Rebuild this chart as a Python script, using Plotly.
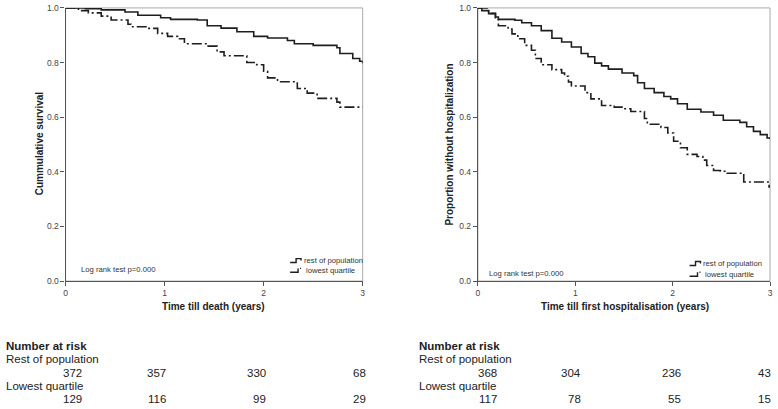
import plotly.graph_objects as go

# ---------------- data ----------------
death_rest_t = [0, 0.2, 0.36, 0.6, 0.73, 0.96, 1.06, 1.33, 1.43, 1.57, 1.73, 1.9, 2.04, 2.24, 2.31, 2.5, 2.74, 2.77, 2.9, 2.97, 3.0]
death_rest_s = [1.0, 0.997, 0.993, 0.985, 0.973, 0.964, 0.958, 0.956, 0.935, 0.926, 0.913, 0.896, 0.89, 0.881, 0.869, 0.863, 0.854, 0.833, 0.815, 0.805, 0.797]

death_low_t = [0, 0.13, 0.23, 0.36, 0.46, 0.63, 0.66, 0.83, 0.93, 1.03, 1.13, 1.2, 1.43, 1.53, 1.6, 1.83, 1.93, 2.0, 2.04, 2.14, 2.34, 2.44, 2.54, 2.74, 2.77, 3.0]
death_low_s = [1.0, 0.99, 0.982, 0.97, 0.956, 0.94, 0.931, 0.925, 0.907, 0.896, 0.887, 0.869, 0.86, 0.839, 0.825, 0.8, 0.792, 0.768, 0.744, 0.73, 0.705, 0.688, 0.669, 0.655, 0.637, 0.637]

hosp_rest_t = [0, 0.04, 0.11, 0.18, 0.21, 0.38, 0.45, 0.55, 0.65, 0.76, 0.86, 0.96, 1.06, 1.13, 1.2, 1.27, 1.34, 1.48, 1.6, 1.64, 1.71, 1.81, 1.91, 1.98, 2.05, 2.15, 2.29, 2.42, 2.52, 2.69, 2.76, 2.83, 2.9, 2.97, 3.0]
hosp_rest_s = [1.0, 0.99, 0.979, 0.967, 0.958, 0.955, 0.946, 0.935, 0.917, 0.889, 0.875, 0.857, 0.833, 0.821, 0.798, 0.788, 0.776, 0.762, 0.752, 0.726, 0.705, 0.69, 0.676, 0.667, 0.649, 0.629, 0.619, 0.607, 0.589, 0.581, 0.565, 0.548, 0.536, 0.524, 0.52]

hosp_low_t = [0, 0.11, 0.18, 0.21, 0.31, 0.35, 0.41, 0.48, 0.55, 0.59, 0.65, 0.76, 0.86, 0.89, 0.93, 0.96, 1.1, 1.16, 1.27, 1.4, 1.5, 1.57, 1.71, 1.74, 1.88, 1.95, 2.01, 2.08, 2.15, 2.25, 2.31, 2.35, 2.42, 2.49, 2.56, 2.73, 2.99, 3.0]
hosp_low_s = [1.0, 0.98, 0.964, 0.935, 0.923, 0.905, 0.887, 0.863, 0.845, 0.815, 0.792, 0.774, 0.762, 0.75, 0.729, 0.714, 0.69, 0.667, 0.643, 0.637, 0.631, 0.621, 0.595, 0.574, 0.562, 0.542, 0.512, 0.488, 0.464, 0.456, 0.443, 0.423, 0.405, 0.402, 0.395, 0.363, 0.345, 0.345]

x_ticks = [0, 1, 2, 3]
y_ticks = [0.0, 0.2, 0.4, 0.6, 0.8, 1.0]
y_tick_labels = ["0.0", "0.2", "0.4", "0.6", "0.8", "1.0"]

series_names = ["rest of population", "lowest quartile"]
risk_title = "Number at risk"
risk_groups = ["Rest of population", "Lowest quartile"]
risk_death_rest = [372, 357, 330, 68]
risk_death_low = [129, 116, 99, 29]
risk_hosp_rest = [368, 304, 236, 43]
risk_hosp_low = [117, 78, 55, 15]

# ---------------- layout helpers ----------------
W, H = 778, 409
def fx(p):
    return p / W
def fy(p):
    return 1 - p / H

LINE = "#1e1e1e"
AX = "#555555"
FRAME = "#aaaaaa"
TICKF = dict(family="Liberation Sans, Arial, sans-serif", size=8.5, color="#444444")
TITLEF = dict(family="Liberation Sans, Arial, sans-serif", size=10, color="#222222")
TABF = dict(family="Liberation Sans, Arial, sans-serif", size=11.5, color="#222222")
SMALLF = dict(family="Liberation Sans, Arial, sans-serif", size=7.7, color="#333333")

fig = go.Figure()

panels = [
    ("x", "y", death_rest_t, death_rest_s, death_low_t, death_low_s),
    ("x2", "y2", hosp_rest_t, hosp_rest_s, hosp_low_t, hosp_low_s),
]
for xa, ya, rt, rs, lt, ls in panels:
    fig.add_trace(go.Scatter(x=rt, y=rs, xaxis=xa, yaxis=ya, mode="lines", line_shape="hv",
                             line=dict(color=LINE, width=1.6), name=series_names[0], showlegend=False))
    fig.add_trace(go.Scatter(x=lt, y=ls, xaxis=xa, yaxis=ya, mode="lines", line_shape="hv",
                             line=dict(color=LINE, width=1.6, dash="10px,3px,2px,3px"),
                             name=series_names[1], showlegend=False))

common_x = dict(range=[0, 3], tickvals=x_ticks, ticktext=[str(v) for v in x_ticks], showgrid=False,
                zeroline=False, showline=True, linecolor=AX, linewidth=1.2, ticks="outside",
                ticklen=4, tickcolor=AX, tickfont=TICKF, fixedrange=True, ticklabeloverflow="allow")
common_y = dict(range=[0, 1], tickvals=y_ticks, ticktext=y_tick_labels, showgrid=False,
                zeroline=False, showline=True, linecolor=AX, linewidth=1.2, ticks="outside",
                ticklen=4, tickcolor=AX, tickfont=TICKF, fixedrange=True, ticklabeloverflow="allow")

ydom = [fy(283), fy(3)]
fig.update_layout(
    width=W, height=H,
    margin=dict(l=0, r=0, t=0, b=0),
    paper_bgcolor="white", plot_bgcolor="white",
    xaxis=dict(domain=[fx(64), fx(363)], anchor="y", **common_x),
    yaxis=dict(domain=ydom, anchor="x", **common_y),
    xaxis2=dict(domain=[fx(479), fx(773)], anchor="y2", **common_x),
    yaxis2=dict(domain=ydom, anchor="x2", **common_y),
    showlegend=False,
)

shapes = []
anns = []
# frames
for xr, yr in [("x domain", "y domain"), ("x2 domain", "y2 domain")]:
    shapes.append(dict(type="rect", xref=xr, yref=yr, x0=0, x1=1, y0=0, y1=1,
                       line=dict(color=FRAME, width=1), layer="below"))

# axis titles
anns.append(dict(text="<b>Time till death (years)</b>", x=fx(213), y=fy(309), xref="paper", yref="paper",
                 showarrow=False, font=TITLEF, xanchor="center", yanchor="middle"))
anns.append(dict(text="<b>Time till first hospitalisation (years)</b>", x=fx(627), y=fy(309), xref="paper",
                 yref="paper", showarrow=False, font=TITLEF, xanchor="center", yanchor="middle"))
anns.append(dict(text="<b>Cummulative survival</b>", x=fx(38), y=fy(142), xref="paper", yref="paper",
                 showarrow=False, font=TITLEF, textangle=-90, xanchor="center", yanchor="middle"))
anns.append(dict(text="<b>Proportion without hospitalization</b>", x=fx(450), y=fy(143), xref="paper",
                 yref="paper", showarrow=False, font=TITLEF, textangle=-90, xanchor="center", yanchor="middle"))

# log rank texts
anns.append(dict(text="Log rank test p=0.000", x=fx(78), y=fy(271), xref="paper", yref="paper",
                 showarrow=False, font=SMALLF, xanchor="left", yanchor="middle"))
anns.append(dict(text="Log rank test p=0.000", x=fx(488), y=fy(275), xref="paper", yref="paper",
                 showarrow=False, font=SMALLF, xanchor="left", yanchor="middle"))

# manual legends (step symbols + text)
for (sx, ty1, ty2) in [(290, 262, 272), (692, 265, 276)]:
    shapes.append(dict(type="path", xref="paper", yref="paper",
                       path=f"M {fx(sx)},{fy(ty1+2)} H {fx(sx+6)} V {fy(ty1-2)} H {fx(sx+11)} V {fy(ty1)}",
                       line=dict(color=LINE, width=1.4)))
    shapes.append(dict(type="path", xref="paper", yref="paper",
                       path=f"M {fx(sx)},{fy(ty2+2)} H {fx(sx+8)} V {fy(ty2-2)}",
                       line=dict(color=LINE, width=1.4)))
    shapes.append(dict(type="line", xref="paper", yref="paper",
                       x0=fx(sx+10), x1=fx(sx+11), y0=fy(ty2-2), y1=fy(ty2-2),
                       line=dict(color=LINE, width=1.4)))
    anns.append(dict(text=series_names[0], x=fx(sx + 12), y=fy(ty1), xref="paper", yref="paper",
                     showarrow=False, font=SMALLF, xanchor="left", yanchor="middle"))
    anns.append(dict(text=series_names[1], x=fx(sx + 14), y=fy(ty2), xref="paper", yref="paper",
                     showarrow=False, font=SMALLF, xanchor="left", yanchor="middle"))

# number at risk tables
tables = [
    (2, [83, 167, 268, 368], risk_death_rest, risk_death_low),
    (418, [500, 585, 685, 776], risk_hosp_rest, risk_hosp_low),
]
rows_y = [350, 363, 377, 391, 404]
for x0, cols, rest, low in tables:
    anns.append(dict(text="<b>" + risk_title + "</b>", x=fx(x0), y=fy(rows_y[0]), xref="paper", yref="paper",
                     showarrow=False, font=TABF, xanchor="left", yanchor="middle"))
    anns.append(dict(text=risk_groups[0], x=fx(x0), y=fy(rows_y[1]), xref="paper", yref="paper",
                     showarrow=False, font=TABF, xanchor="left", yanchor="middle"))
    anns.append(dict(text=risk_groups[1], x=fx(x0), y=fy(rows_y[3]), xref="paper", yref="paper",
                     showarrow=False, font=TABF, xanchor="left", yanchor="middle"))
    for cx, v in zip(cols, rest):
        anns.append(dict(text=str(v), x=fx(cx), y=fy(rows_y[2]), xref="paper", yref="paper",
                         showarrow=False, font=TABF, xanchor="right", yanchor="middle"))
    for cx, v in zip(cols, low):
        anns.append(dict(text=str(v), x=fx(cx), y=fy(rows_y[4]), xref="paper", yref="paper",
                         showarrow=False, font=TABF, xanchor="right", yanchor="middle"))

fig.update_layout(shapes=shapes, annotations=anns)
fig.write_html("out.html", config={"displayModeBar": False},
               post_script="document.body.style.margin='0';document.body.style.overflow='hidden';")
